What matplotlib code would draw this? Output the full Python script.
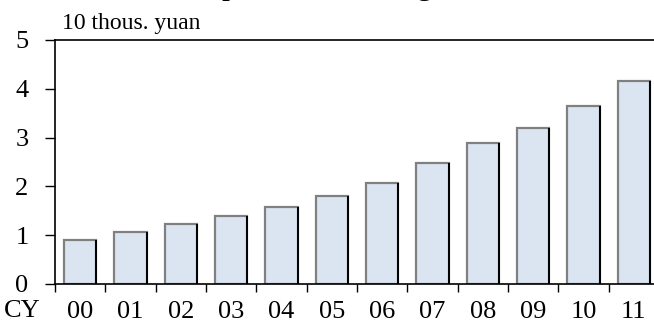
import matplotlib
matplotlib.use("Agg")
import matplotlib.pyplot as plt
import numpy as np

categories = ["00", "01", "02", "03", "04", "05", "06", "07", "08", "09", "10", "11"]
values = [0.91, 1.07, 1.22, 1.39, 1.57, 1.81, 2.07, 2.47, 2.88, 3.20, 3.64, 4.17]
yticks = [0, 1, 2, 3, 4, 5]
unit_label = "10 thous. yuan"
prefix_label = "CY"
title = "Income per head, average"

plt.rcParams['font.family'] = ['Liberation Serif', 'DejaVu Serif']

fig = plt.figure(figsize=(6.54, 3.31), dpi=100)
ax = fig.add_axes([55/654, 1-284/331, 604/654, 244/331])

x = np.arange(len(categories))
w = 0.64
ax.bar(x, values, width=w, color="#dbe5f1", edgecolor="#808080", linewidth=1.6, zorder=2)
ax.vlines(x + w/2, 0, values, color="black", linewidth=1.4, zorder=3)

ax.set_xlim(-0.5, len(categories) - 0.5)
ax.set_ylim(0, 5)
ax.set_yticks(yticks)
ax.set_yticklabels([str(v) for v in yticks], fontsize=19)
ax.set_xticks(x)
ax.set_xticklabels(categories, fontsize=19)
ax.set_xticks(np.arange(len(categories)) - 0.5, minor=True)
ax.tick_params(axis='x', which='major', length=0, pad=12)
ax.tick_params(axis='x', which='minor', length=6, width=1, direction='out')
ax.tick_params(axis='y', length=7, width=1, direction='out', pad=12)

for s in ax.spines.values():
    s.set_linewidth(1.2)

fig.text(62/654, 1-23/331, unit_label, fontsize=17, va='center', ha='left')
fig.text(22/654, 1-311/331, prefix_label, fontsize=19, va='center', ha='center')
fig.text(0.5 - 45/654, 1.0 + 6/331, title, fontsize=23, ha='center', va='baseline')

fig.savefig("out.png", dpi=100)
